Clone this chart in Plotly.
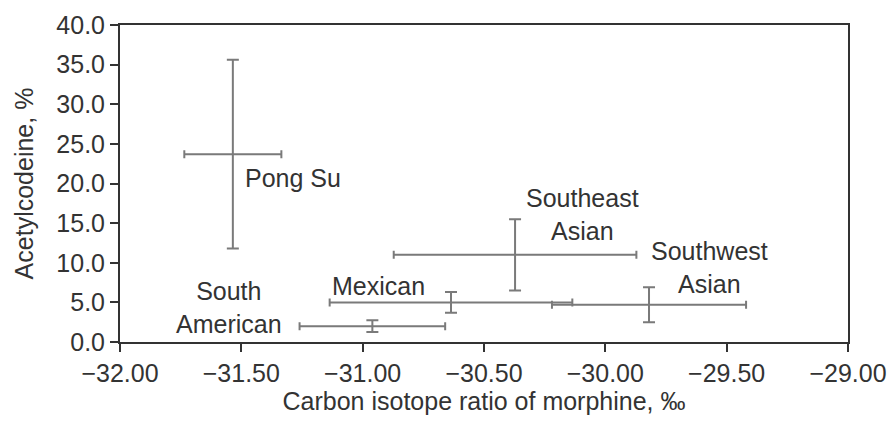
import plotly.graph_objects as go

# Data
groups = ["Pong Su", "South American", "Mexican", "Southeast Asian", "Southwest Asian"]
carbon_ratio = [-31.535, -30.96, -30.636, -30.372, -29.82]
carbon_err = [0.20, 0.30, 0.50, 0.50, 0.40]
acetylcodeine = [23.7, 2.0, 5.0, 11.0, 4.7]
acetyl_err = [11.9, 0.74, 1.3, 4.5, 2.2]

label_text = ["Pong Su", "South<br>American", "Mexican", "Southeast<br>Asian", "Southwest<br>Asian"]
label_x = [-31.493, -31.551, -30.933, -30.096, -29.571]
label_y = [20.7, 4.3, 7.1, 16.1, 9.4]
label_anchor = ["left", "center", "center", "center", "center"]

x_ticks = [-32.0, -31.5, -31.0, -30.5, -30.0, -29.5, -29.0]
y_ticks = [0, 5, 10, 15, 20, 25, 30, 35, 40]

FONT = "Liberation Sans, Arial, sans-serif"
TXT = "#333333"
BAR = "#7a7a7a"

fig = go.Figure()
fig.add_trace(go.Scatter(
    x=carbon_ratio, y=acetylcodeine, mode="markers",
    marker=dict(size=1, color="rgba(0,0,0,0)"),
    error_x=dict(type="data", array=carbon_err, color=BAR, thickness=2, width=4),
    error_y=dict(type="data", array=acetyl_err, color=BAR, thickness=2, width=6),
    hoverinfo="skip", showlegend=False,
))

for t, x, y, a in zip(label_text, label_x, label_y, label_anchor):
    fig.add_annotation(x=x, y=y, text=t, showarrow=False, xanchor=a, yanchor="middle",
                       align="center", font=dict(family=FONT, size=25, color=TXT))

axis_common = dict(showline=True, linecolor="#333333", linewidth=2, mirror=True,
                   ticks="outside", ticklen=8, tickwidth=1.5, tickcolor="#333333",
                   showgrid=False, zeroline=False, automargin=False,
                   tickfont=dict(family=FONT, size=25, color=TXT))

fig.update_layout(
    width=889, height=424,
    margin=dict(l=120, r=41, t=25, b=82),
    paper_bgcolor="white", plot_bgcolor="white",
    xaxis=dict(range=[-32, -29], tickvals=x_ticks, tickformat=".2f",
               title=dict(text="Carbon isotope ratio of morphine, ‰", standoff=6,
                          font=dict(family=FONT, size=25, color=TXT)),
               **axis_common),
    yaxis=dict(range=[0, 40], tickvals=y_ticks, tickformat=".1f",
               title=dict(text="Acetylcodeine, %", standoff=16,
                          font=dict(family=FONT, size=25, color=TXT)),
               **axis_common),
)

fig.write_html("out.html")
